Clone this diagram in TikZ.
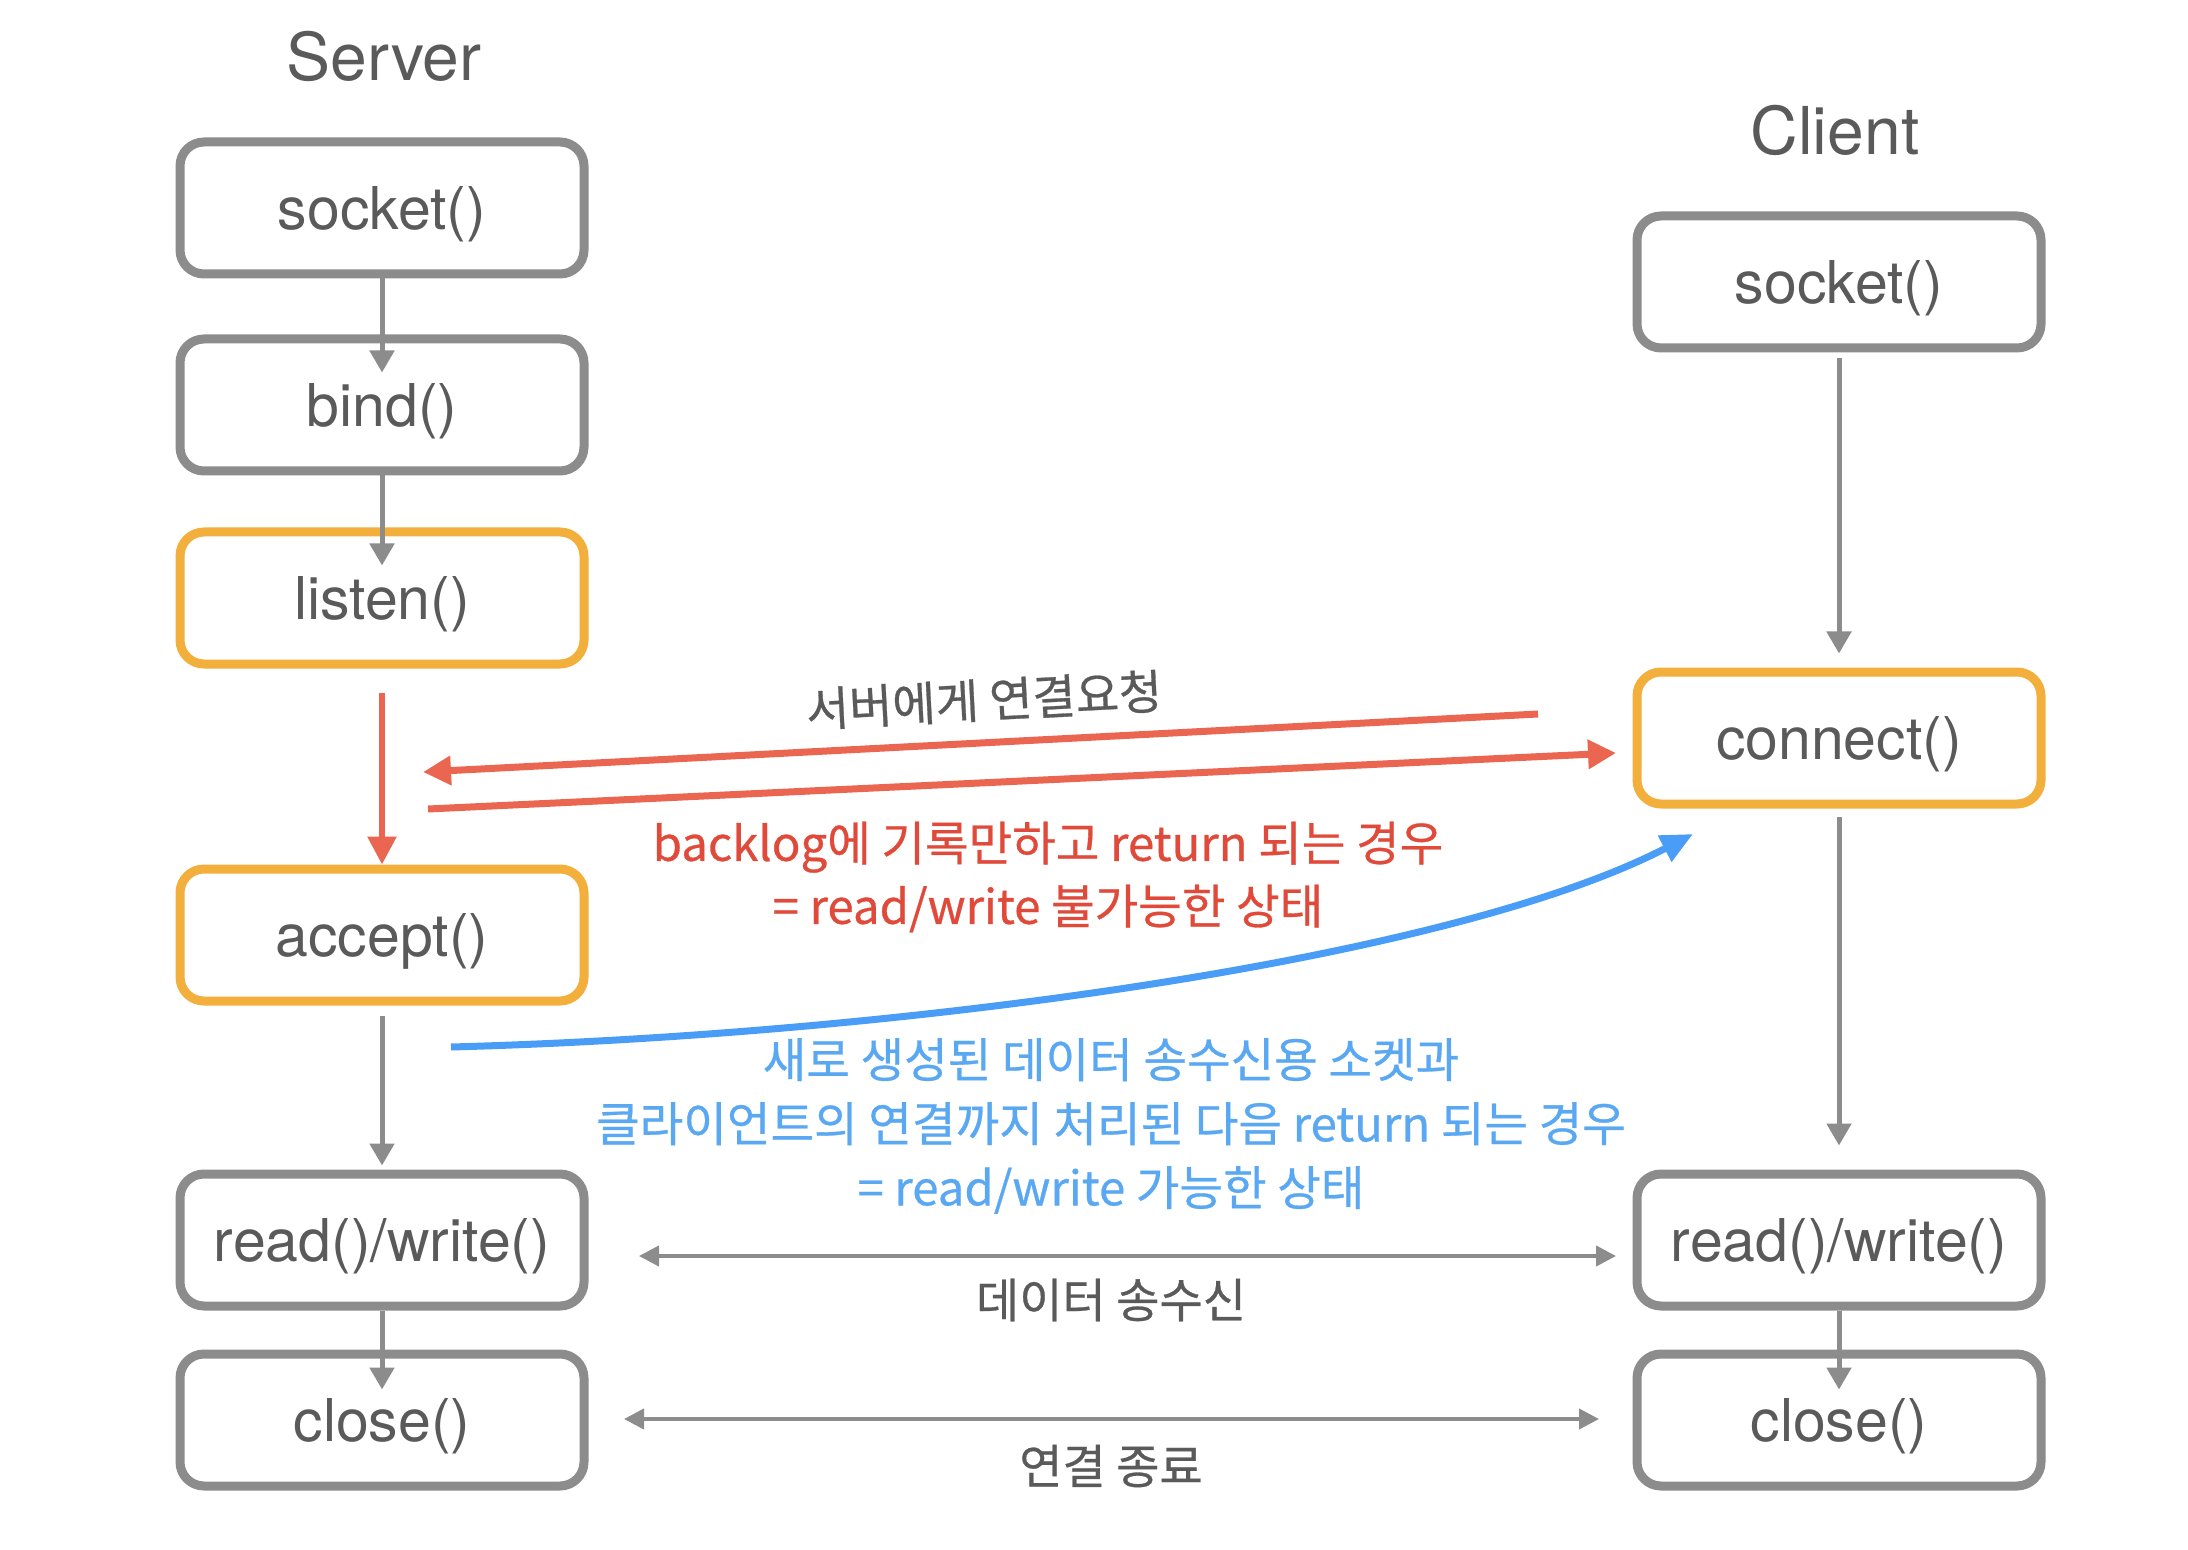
\documentclass[tikz,border=0pt]{standalone}
\usepackage{fontspec}
\setmainfont{TeX Gyre Heros}
\newfontfamily\kr[FakeBold=0.6]{Noto Sans CJK KR}
\usetikzlibrary{arrows.meta,calc}
\definecolor{boxgray}{HTML}{8C8C8C}
\definecolor{txtgray}{HTML}{5A5A5A}
\definecolor{orng}{HTML}{F2AF3B}
\definecolor{redline}{HTML}{EB6650}
\definecolor{redtxt}{HTML}{E04A3A}
\definecolor{blueline}{HTML}{4A9DF7}
\definecolor{bluetxt}{HTML}{5AA8F2}
\begin{document}
\begin{tikzpicture}[x=0.5pt,y=-0.5pt,
  fbox/.style={draw=boxgray,line width=4.5pt,rounded corners=12pt,minimum width=202pt,minimum height=66pt,
    text=txtgray,font=\fontsize{29.5}{34}\selectfont,inner sep=0pt,text depth=0pt},
  obox/.style={fbox,draw=orng},
  title/.style={text=txtgray,font=\fontsize{33}{38}\selectfont},
  garr/.style={draw=boxgray,line width=2.5pt,-{Triangle[width=12pt,length=11pt]}},
  gdarr/.style={draw=boxgray,line width=2pt,{Triangle[width=10pt,length=10pt]}-{Triangle[width=10pt,length=10pt]}},
  rarr/.style={draw=redline,line width=3.5pt,-{Triangle[width=14pt,length=14pt]}},
  barr/.style={draw=blueline,line width=3.5pt,-{Triangle[width=14pt,length=16pt]}},
  glab/.style={text=txtgray,font=\kr\fontsize{23.5}{28}\selectfont},
  rlab/.style={text=redtxt,font=\kr\fontsize{23.7}{31.5}\selectfont,align=center},
  blab/.style={text=bluetxt,font=\kr\fontsize{23.7}{32}\selectfont,align=center}]
\useasboundingbox (0,0) rectangle (2188,1550);
% titles
\node[title] (tsrv) at (384,56) {Server};
\node[title] (tcli) at (1835,130) {Client};
% server boxes
\node[fbox] (ssock) at (382,208) {socket()};
\node[fbox] (sbind) at (382,405) {bind()};
\node[obox] (slisten) at (382,598) {listen()};
\node[obox] (saccept) at (382,935) {accept()};
\node[fbox] (srw) at (382,1240) {read()/write()};
\node[fbox] (sclose) at (382,1420) {close()};
% client boxes
\node[fbox] (csock) at (1839,282) {socket()};
\node[obox] (cconn) at (1839,738) {connect()};
\node[fbox] (crw) at (1839,1240) {read()/write()};
\node[fbox] (cclose) at (1839,1420) {close()};
% server vertical arrows
\draw[garr] (ssock.south) -- ([yshift=-19pt]sbind.north);
\draw[garr] (sbind.south) -- ([yshift=-19pt]slisten.north);
\draw[rarr,line width=3pt] ([yshift=-12pt]slisten.south) -- (saccept.north);
\draw[garr] ([yshift=-5pt]saccept.south) -- ([yshift=2pt]srw.north);
\draw[garr] (srw.south) -- ([yshift=-20pt]sclose.north);
% client vertical arrows
\draw[garr] ([yshift=-3pt]csock.south) -- ([yshift=7pt]cconn.north);
\draw[garr] ([yshift=-4pt]cconn.south) -- ([yshift=12pt]crw.north);
\draw[garr] (crw.south) -- ([yshift=-20pt]cclose.north);
% red request arrows
\coordinate (r1s) at (1538,714);
\coordinate (r1e) at (423,772);
\coordinate (r2s) at (428,809);
\coordinate (r2e) at (1616,753);
\draw[rarr] (r1s) -- (r1e);
\draw[rarr] (r2s) -- (r2e);
\node[glab,rotate=3] (lreq) at (984,700) {서버에게 연결요청};
\node[rlab] (lback) at (1048,877) {backlog에 기록만하고 return 되는 경우\\= read/write 불가능한 상태};
% blue accept arrow
\coordinate (bs) at (451,1047);
\coordinate (be) at (1693,834);
\draw[barr] (bs) .. controls (900,1035) and (1450,960) .. (be);
\node[blab] (lacc) at (1111,1126) {새로 생성된 데이터 송수신용 소켓과\\클라이언트의 연결까지 처리된 다음 return 되는 경우\\= read/write 가능한 상태};
% data / close arrows
\coordinate (d1) at (639,1256);
\coordinate (d2) at (1616,1256);
\draw[gdarr] (d1) -- (d2);
\node[glab] (ldata) at (1111,1300) {데이터 송수신};
\coordinate (c1) at (624,1419);
\coordinate (c2) at (1599,1419);
\draw[gdarr] (c1) -- (c2);
\node[glab] (lclose) at (1111,1466) {연결 종료};
\end{tikzpicture}
\end{document}
